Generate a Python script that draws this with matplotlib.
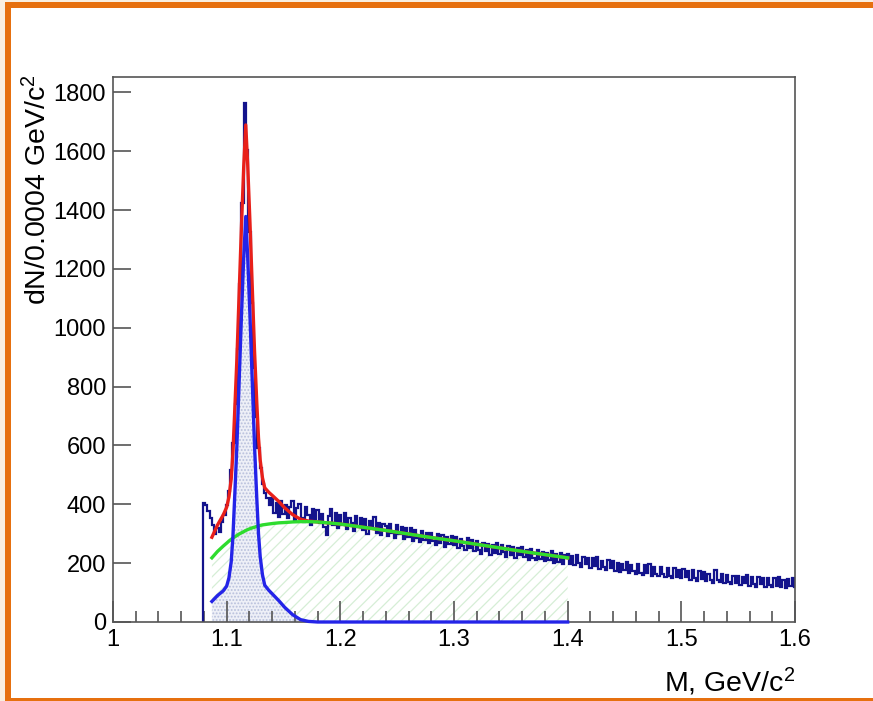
#!/usr/bin/env python3
"""
Invariant mass spectrum with signal + background fit (ROOT style).
"""

import numpy as np
import matplotlib
matplotlib.use("Agg")
import matplotlib.pyplot as plt
from matplotlib.patches import Rectangle
from matplotlib.ticker import MultipleLocator

plt.rcParams['font.family'] = ['Liberation Sans', 'DejaVu Sans']
plt.rcParams['mathtext.fontset'] = 'custom'
plt.rcParams['mathtext.rm'] = 'Liberation Sans'
plt.rcParams['mathtext.it'] = 'Liberation Sans:italic'
plt.rcParams['hatch.linewidth'] = 0.9

# histogram: first bin edge, bin width and bin contents
hist_start = 1.079
hist_width = 0.002
hist_counts = [
    405, 398, 378, 352, 330, 298, 318, 305, 340, 362,
    398, 445, 515, 608, 742, 928, 1148, 1425, 1765, 1605,
    1325, 1085, 862, 695, 590, 522, 470, 438, 422, 398,
    420, 372, 405, 358, 412, 366, 398, 352, 390, 410,
    345, 388, 402, 352, 340, 392, 362, 330, 384, 350,
    380, 336, 366, 322, 296, 360, 384, 330, 370, 318,
    362, 328, 372, 316, 354, 336, 310, 360, 322, 352,
    312, 350, 300, 342, 318, 356, 304, 338, 296, 334,
    326, 292, 334, 304, 284, 330, 298, 322, 282, 318,
    288, 320, 276, 312, 286, 272, 310, 280, 304, 268,
    302, 274, 262, 300, 270, 296, 254, 288, 264, 292,
    260, 290, 250, 282, 258, 244, 284, 252, 278, 240,
    274, 244, 232, 270, 240, 266, 228, 262, 236, 270,
    230, 260, 238, 220, 258, 228, 254, 218, 250, 226,
    256, 220, 244, 212, 248, 218, 210, 244, 214, 238,
    206, 236, 210, 240, 200, 230, 204, 234, 196, 226,
    232, 198, 224, 192, 226, 200, 188, 222, 196, 218,
    182, 216, 190, 220, 180, 208, 186, 176, 210, 182,
    206, 174, 202, 170, 198, 176, 204, 166, 194, 172,
    164, 196, 168, 160, 192, 166, 198, 158, 186, 164,
    156, 188, 162, 152, 182, 158, 150, 184, 154, 178,
    148, 180, 152, 174, 142, 176, 150, 140, 172, 146,
    170, 138, 164, 142, 134, 176, 142, 136, 164, 132,
    160, 136, 128, 158, 134, 156, 126, 154, 132, 160,
    124, 152, 130, 120, 154, 128, 148, 120, 150, 126,
    118, 148, 124, 152, 120, 144, 114, 146, 122, 148,
    120,
]

# fit components sampled on a common mass grid
fit_mass = [
    1.087, 1.092, 1.097, 1.100, 1.102, 1.104, 1.1055, 1.107, 1.109, 1.111,
    1.113, 1.115, 1.1168, 1.1185, 1.1205, 1.1225, 1.1245, 1.1265, 1.128, 1.1295,
    1.1315, 1.1335, 1.137, 1.141, 1.146, 1.151, 1.158, 1.165, 1.172, 1.180,
    1.200, 1.220, 1.240, 1.260, 1.280, 1.300, 1.320, 1.340, 1.360, 1.380,
    1.400,
]
fit_signal = [
    70, 90, 106, 122, 150, 205, 290, 420, 600, 820,
    1040, 1240, 1378, 1240, 1040, 820, 600, 420, 300, 222,
    160, 125, 108, 92, 72, 50, 25, 8, 2, 0,
    0, 0, 0, 0, 0, 0, 0, 0, 0, 0,
    0,
]
fit_background = [
    218, 240, 258, 268, 275, 281, 285, 289, 294, 299,
    303, 307, 311, 314, 317, 320, 322, 325, 326, 328,
    330, 331, 333, 335, 337, 338, 340, 341, 341, 340,
    333, 322, 311, 299, 287, 276, 264, 252, 240, 229,
    218,
]

x_ticks = [1.0, 1.1, 1.2, 1.3, 1.4, 1.5, 1.6]
x_tick_labels = ['1', '1.1', '1.2', '1.3', '1.4', '1.5', '1.6']
y_ticks = [0, 200, 400, 600, 800, 1000, 1200, 1400, 1600, 1800]

W, H = 873, 701
fig = plt.figure(figsize=(W / 100, H / 100), dpi=100)
fig.patch.set_facecolor('white')

# orange frame around the slide region
cream = '#f9efe0'
orange = '#e6700f'
fig.add_artist(Rectangle((0, 0), 5 / W, 1, transform=fig.transFigure,
                         color=cream, lw=0))
fig.add_artist(Rectangle((0, 1 - 2 / H), 1, 2 / H, transform=fig.transFigure,
                         color=cream, lw=0))
fig.add_artist(Rectangle((5 / W, 0), 6 / W, 1 - 2 / H, transform=fig.transFigure,
                         color=orange, lw=0))
fig.add_artist(Rectangle((5 / W, 1 - 8 / H), 1, 6 / H, transform=fig.transFigure,
                         color=orange, lw=0))
fig.add_artist(Rectangle((5 / W, 0), 1, 3 / H, transform=fig.transFigure,
                         color=orange, lw=0))

ax = fig.add_axes([113 / W, (H - 622) / H, 682 / W, 545 / H])

mass = np.array(fit_mass)
sig = np.array(fit_signal)
bkg = np.array(fit_background)
total = sig + bkg

# filled components
ax.fill_between(mass, 0, bkg, facecolor='none', edgecolor='#d6eed6',
                hatch='///', linewidth=0, zorder=1)
ax.fill_between(mass, 0, sig, facecolor='#eef0f7', edgecolor='#b8c0dc',
                hatch='.....', linewidth=0, zorder=1.5)

# data histogram
edges = np.round(hist_start + hist_width * np.arange(len(hist_counts) + 1), 4)
ax.stairs(hist_counts, edges, baseline=0, color='#13138c', lw=1.6, zorder=2)

# fit curves
ax.plot(mass, total, color='#e8201a', lw=2.4, zorder=3)
ax.plot(mass, bkg, color='#2edc2e', lw=2.4, zorder=4)
ax.plot(mass, sig, color='#2424e8', lw=2.4, zorder=5, clip_on=False)

ax.set_xlim(1.0, 1.6)
ax.set_ylim(0, 1852)

ax.set_xticks(x_ticks)
ax.set_xticklabels(x_tick_labels)
ax.xaxis.set_minor_locator(MultipleLocator(0.02))
ax.set_yticks(y_ticks)

frame = '#555555'
for sp in ax.spines.values():
    sp.set_color(frame)
    sp.set_linewidth(1.2)
ax.tick_params(axis='x', which='major', direction='in', length=15, width=1.2,
               color=frame, labelsize=17, pad=5, top=False)
ax.tick_params(axis='x', which='minor', direction='in', length=8, width=1.2,
               color=frame, top=False)
ax.tick_params(axis='y', which='major', direction='in', length=13, width=1.2,
               color=frame, labelsize=17, pad=5, right=False)

# axis titles, ROOT-style placement
fig.text(38 / W, (H - 74) / H, 'dN/0.0004 GeV/c$^{2}$', rotation=90,
         ha='center', va='top', fontsize=20.5)
fig.text(795 / W, (H - 682) / H, 'M, GeV/c$^{2}$', ha='right', va='center',
         fontsize=20.5)

fig.savefig('out.png', dpi=100)
